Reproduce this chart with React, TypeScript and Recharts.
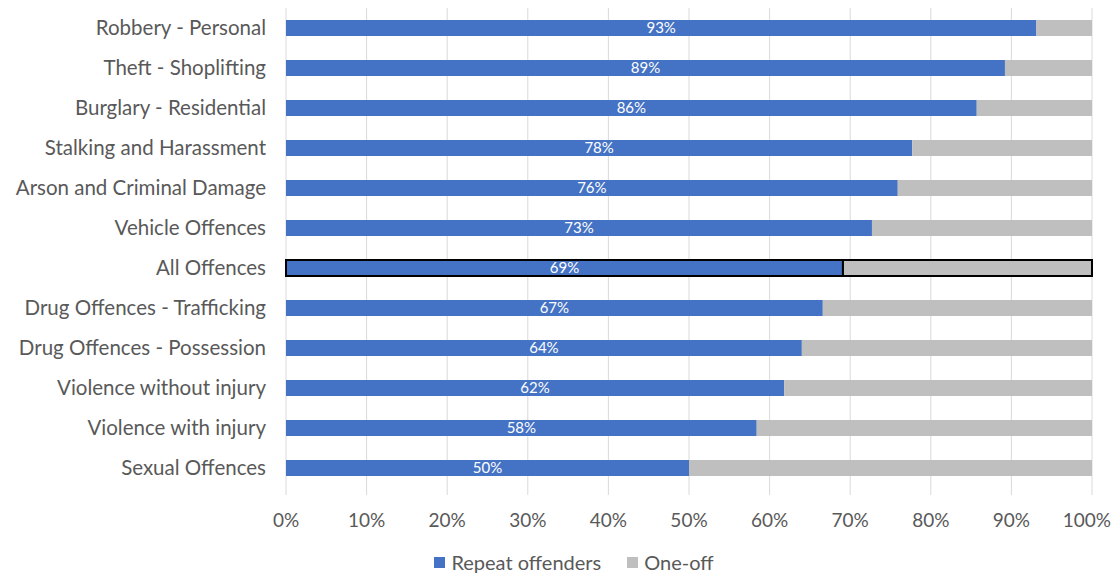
import { BarChart, Bar, XAxis, YAxis, CartesianGrid, Legend, LabelList, Cell } from "recharts"

const categories = [
  "Robbery - Personal",
  "Theft - Shoplifting",
  "Burglary - Residential",
  "Stalking and Harassment",
  "Arson and Criminal Damage",
  "Vehicle Offences",
  "All Offences",
  "Drug Offences - Trafficking",
  "Drug Offences - Possession",
  "Violence without injury",
  "Violence with injury",
  "Sexual Offences",
]
const repeatOffenders = [93.1, 89.2, 85.7, 77.7, 75.9, 72.7, 69.1, 66.6, 64.0, 61.8, 58.4, 50.0]
const oneOff = [6.9, 10.8, 14.3, 22.3, 24.1, 27.3, 30.9, 33.4, 36.0, 38.2, 41.6, 50.0]
const xTicks = [0, 10, 20, 30, 40, 50, 60, 70, 80, 90, 100]
const seriesOrder = ["repeat", "oneoff"]

const HIGHLIGHT = "All Offences"
const BLUE = "#4472C4"
const GREY = "#BFBFBF"
const TEXT = "#595959"
const FONT = "Lato, 'Open Sans', sans-serif"

const data = categories.map((name, i) => ({
  name,
  repeat: repeatOffenders[i],
  oneoff: oneOff[i],
}))

function LegendContent({ payload }: any) {
  const items = [...(payload ?? [])].sort(
    (a: any, b: any) => seriesOrder.indexOf(a.dataKey) - seriesOrder.indexOf(b.dataKey)
  )
  return (
    <div style={{ display: "flex", justifyContent: "center", paddingLeft: 48, gap: 26, fontFamily: FONT }}>
      {items.map((it: any) => (
        <div key={it.value} style={{ display: "flex", alignItems: "center", gap: 6 }}>
          <span style={{ width: 11, height: 11, background: it.color, display: "inline-block" }} />
          <span style={{ color: TEXT, fontSize: 20, lineHeight: "22px" }}>{it.value}</span>
        </div>
      ))}
    </div>
  )
}

export default function App() {
  return (
    <div style={{ fontFamily: FONT }}>
      <BarChart
        width={1103}
        height={565}
        data={data}
        layout="vertical"
        barSize={16}
        margin={{ top: 0, right: 19, bottom: 0, left: 0 }}
      >
        <CartesianGrid horizontal={false} stroke="#d9d9d9" />
        <XAxis
          type="number"
          domain={[0, 100]}
          ticks={xTicks}
          tickFormatter={(v) => `${v}%`}
          axisLine={false}
          tickLine={{ stroke: "#d9d9d9" }}
          tickSize={7}
          tickMargin={19}
          height={63}
          tick={{ fontSize: 19, fill: TEXT, fontFamily: FONT }}
        />
        <YAxis
          type="category"
          dataKey="name"
          width={278}
          axisLine={false}
          tickLine={false}
          tickSize={0}
          tickMargin={20}
          interval={0}
          tick={{ fontSize: 20.5, fill: TEXT, fontFamily: FONT }}
        />
        <Legend verticalAlign="bottom" content={<LegendContent />} />
        <Bar dataKey="repeat" name="Repeat offenders" stackId="a" fill={BLUE} isAnimationActive={false}>
          {data.map((d) => (
            <Cell
              key={d.name}
              fill={BLUE}
              stroke={d.name === HIGHLIGHT ? "#000" : "none"}
              strokeWidth={d.name === HIGHLIGHT ? 2 : 0}
            />
          ))}
          <LabelList
            dataKey="repeat"
            position="center"
            formatter={(v: any) => `${Math.round(Number(v))}%`}
            style={{ fill: "#fff", fontSize: 15, fontFamily: FONT }}
          />
        </Bar>
        <Bar dataKey="oneoff" name="One-off" stackId="a" fill={GREY} isAnimationActive={false}>
          {data.map((d) => (
            <Cell
              key={d.name}
              fill={GREY}
              stroke={d.name === HIGHLIGHT ? "#000" : "none"}
              strokeWidth={d.name === HIGHLIGHT ? 2 : 0}
            />
          ))}
        </Bar>
      </BarChart>
    </div>
  )
}
